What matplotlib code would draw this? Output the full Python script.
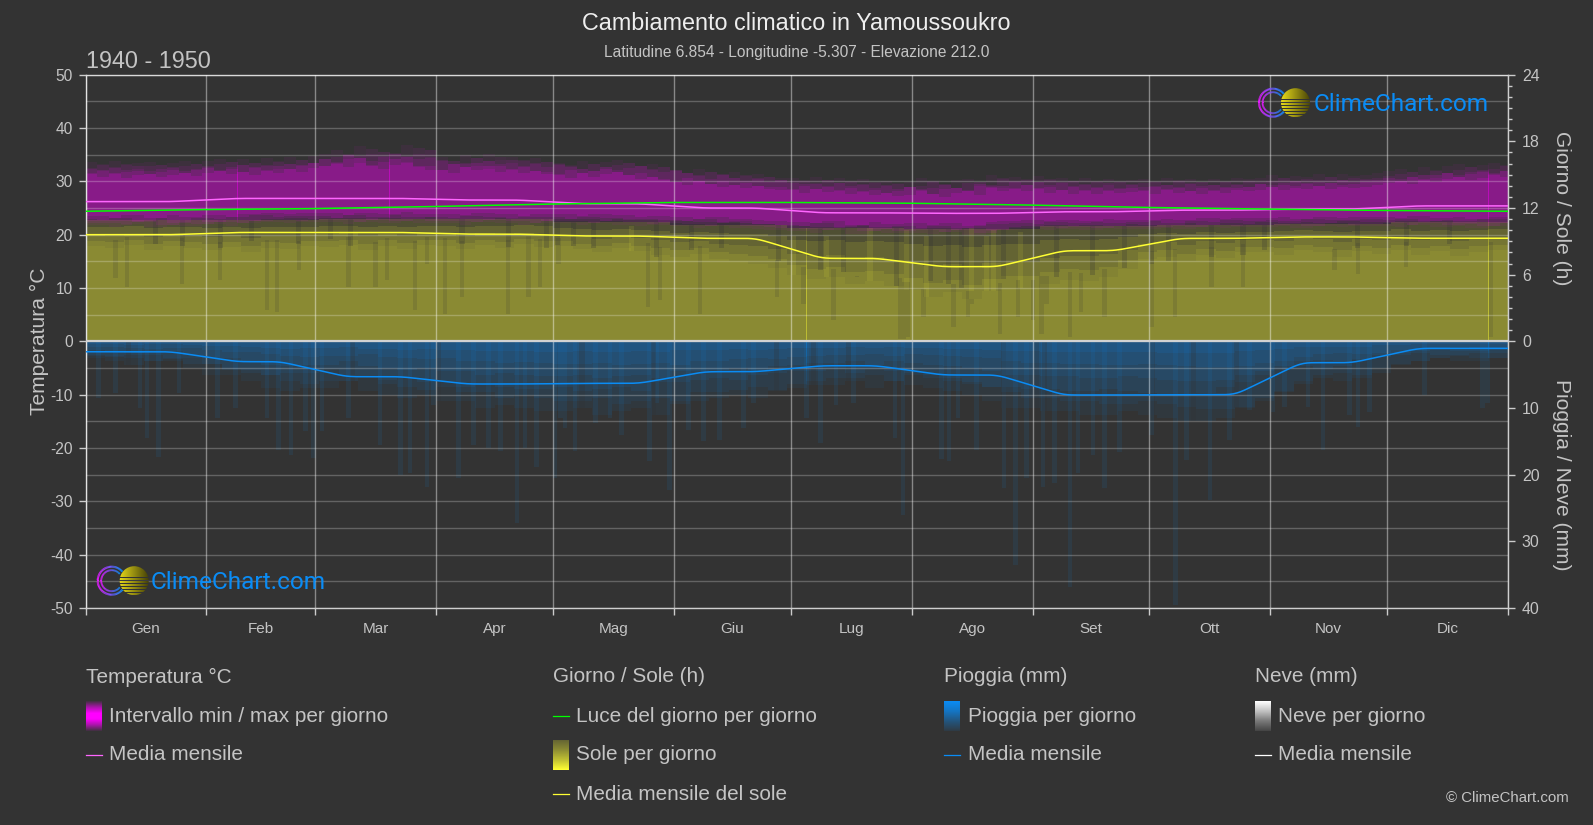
import numpy as np
import matplotlib
matplotlib.use("Agg")
import matplotlib.pyplot as plt
from matplotlib.collections import LineCollection
from matplotlib.patches import Circle

plt.rcParams['font.family'] = ['Liberation Sans', 'DejaVu Sans']
plt.rcParams['axes.unicode_minus'] = False

BG = '#333333'
TXT = '#c4c4c4'
W, H = 1593, 825

months = ['Gen', 'Feb', 'Mar', 'Apr', 'Mag', 'Giu', 'Lug', 'Ago', 'Set', 'Ott', 'Nov', 'Dic']
month_days = [31, 28, 31, 30, 31, 30, 31, 31, 30, 31, 30, 31]

# monthly means
temp_mean = [26.2, 26.8, 26.8, 26.5, 25.8, 25.0, 24.1, 24.0, 24.3, 24.6, 24.8, 25.4]
sun_mean = [9.6, 9.8, 9.8, 9.65, 9.48, 9.27, 7.47, 6.72, 8.16, 9.27, 9.4, 9.28]
rain_mean = [1.56, 3.05, 5.3, 6.4, 6.3, 4.55, 3.66, 5.05, 8.05, 8.0, 3.2, 1.05]
# daylight hours at each month boundary
daylight = [11.71, 11.86, 11.95, 12.14, 12.36, 12.5, 12.5, 12.43, 12.26, 12.05, 11.9, 11.78, 11.71]

# temperature band, top edge in 3 day steps
temp_top = [33.6, 33.2, 33.9, 33.0, 33.4, 33.7, 33.1, 33.5, 33.9, 33.3,
            33.8, 34.2, 33.6, 34.1, 33.5, 34.3, 33.9, 34.6, 34.0, 34.8,
            35.2, 35.8, 34.9, 36.6, 35.2, 34.7, 35.3, 36.9, 35.1, 34.4,
            34.5, 33.9, 35.0, 34.4, 35.1, 34.0, 34.6, 33.8, 34.3, 33.7,
            33.5, 33.0, 33.8, 33.2, 33.6, 34.0, 33.4, 32.8, 33.2, 32.6,
            32.2, 31.6, 32.4, 31.8, 31.2, 31.7, 31.0, 31.4, 30.8, 30.6,
            30.6, 30.2, 30.8, 30.3, 30.6, 29.9, 30.4, 29.7, 30.1, 29.6,
            29.8, 30.6, 29.9, 29.4, 30.2, 30.5, 29.8, 31.2, 30.4, 30.9,
            30.4, 31.0, 30.2, 30.6, 30.0, 30.7, 29.9, 30.4, 30.1, 30.3,
            30.5, 30.0, 30.6, 30.2, 30.4, 29.9, 30.5, 30.1, 30.6, 30.4,
            30.7, 31.2, 30.6, 31.0, 30.8, 31.4, 30.9, 31.3, 31.0, 31.2,
            31.6, 31.9, 32.3, 31.8, 32.6, 32.2, 32.8, 33.2, 32.6, 33.0, 33.4, 33.1]

# temperature band, low edge in 5 day steps
temp_low = [21.8, 21.5, 22.0, 21.4, 21.9, 21.6, 22.0, 21.7, 22.2, 22.4, 22.1, 22.3,
            22.3, 22.0, 22.4, 22.2, 22.5, 22.1, 22.2, 21.9, 22.3, 22.1, 21.8, 22.2,
            22.1, 21.8, 22.2, 21.9, 21.6, 21.8, 21.6, 21.3, 21.7, 21.2, 21.0, 20.8,
            20.7, 20.4, 20.9, 20.2, 20.6, 20.3, 20.4, 20.1, 20.5, 20.0, 20.6, 20.8,
            21.0, 20.8, 21.1, 20.9, 21.2, 21.0, 21.1, 21.3, 21.0, 21.4, 21.2, 21.5,
            21.4, 21.6, 21.3, 21.7, 21.5, 21.6, 21.7, 21.5, 21.8, 21.4, 21.6, 21.3, 21.7]

# sun hours, level reached nearly every year (5 day steps)
sun_solid = [8.6, 8.4, 8.7, 8.2, 8.6, 8.4, 8.2, 8.5, 8.0, 8.4, 8.3, 8.6,
             8.5, 8.7, 8.2, 8.6, 8.3, 8.7, 8.6, 8.3, 8.7, 8.4, 8.8, 8.5,
             8.6, 8.3, 8.0, 8.4, 8.1, 7.8, 7.6, 7.9, 7.4, 7.2, 7.0, 6.6,
             6.0, 5.6, 5.8, 5.2, 5.4, 5.0, 4.6, 4.0, 4.4, 3.8, 4.5, 4.8,
             4.8, 5.2, 5.5, 5.4, 5.8, 6.5, 7.4, 7.6, 7.2, 7.8, 7.5, 8.0,
             8.0, 7.8, 8.2, 8.0, 7.6, 8.1, 7.9, 8.2, 7.8, 8.1, 7.7, 8.0, 8.2]
# sun hours, top of the fringe per month
sun_top = [10.9, 10.9, 11.0, 11.0, 10.7, 10.5, 10.2, 10.1, 10.4, 10.5, 10.6, 10.7]

# long dark streaks in the sun band
sun_dip_days = [7.7, 10.7, 24.8, 34.6, 46.6, 49.1, 54.7, 67.5, 74.4, 77.4, 84.6, 87.6, 92.3, 96.6,
                108.5, 113.7, 116.7, 121.4, 144.4, 147.4, 157.7, 177.4, 184.2, 191.9, 197.9,
                209, 210, 211.1, 215, 222.7, 226.5, 227.5, 234.6, 239.3, 243.2, 245.3, 246.6,
                252.6, 255.5, 261.5, 273.5, 279.5, 288.9, 297, 320.5, 326.5, 338.9, 360.7]
sun_dip_low = [5.7, 4.9, 5.2, 5.5, 2.8, 2.6, 6.4, 4.9, 4.9, 5.5, 2.8, 7.0, 2.5, 4.0,
               2.5, 4.0, 4.9, 7.0, 3.1, 3.7, 2.5, 4.0, 3.4, 1.9, 5.8,
               0.2, 0.2, 0.4, 2.2, 1.3, 2.2, 3.4, 0.7, 2.2, 1.9, 0.7, 3.4,
               0.4, 2.6, 2.2, 1.3, 2.2, 4.9, 4.9, 6.4, 6.1, 6.7, 0.4]

# short dark gaps just under the temperature band
sun_gap_days = [17.9, 24.8, 34.6, 42.7, 54.7, 62.8, 67.9, 96.6, 108.5, 118.4, 121,
                125.2, 130.3, 146.6, 155.6, 163.3, 177.8, 188.5, 194.5, 208.1, 216.7, 221.4, 224.8, 235.5,
                249.1, 258.5, 266.7, 273.5, 277.8, 288.9, 297, 302.6, 326.5, 338.9, 350]
sun_gap_low = [8.8, 8.6, 8.4, 9.0, 8.8, 9.2, 8.6, 8.8, 8.5, 8.4, 8.7,
               8.6, 8.4, 7.6, 8.2, 8.4, 7.2, 6.4, 6.2, 5.0, 5.4, 5.2, 4.8, 5.6,
               5.8, 6.0, 6.6, 7.0, 7.2, 7.6, 7.8, 8.2, 8.4, 8.6, 8.8]

# bright sunny days that stand out in the wet months
sun_peak_days = [140.2, 181.6, 190.2, 201.3, 210.7, 215.8, 227.4, 231.2, 232.9, 239.8]
sun_peak_hours = [10.4, 9.5, 9.5, 10.2, 10.0, 9.5, 10.2, 9.5, 10.0, 9.8]

# rain, depth of the dense part (5 day steps)
rain_band = [2.5, 3, 3.5, 3, 3, 4, 5, 5, 6, 7, 7.5, 7,
             7, 6, 7.5, 8, 8.5, 8, 9, 9, 10, 9.5, 10, 10.5,
             10.5, 10, 11, 10.5, 10, 11, 9, 9, 8.5, 8, 8.5, 7.5,
             7, 6.5, 6.5, 6, 7, 6, 6.5, 7, 7.5, 8, 9, 10,
             10, 10.5, 10.5, 11, 11, 10.5, 11, 11.5, 12, 12, 11.5, 10,
             9, 7.5, 6, 5.5, 6, 5.5, 4, 3.5, 3, 2.5, 3, 3, 2.5]

# single wet days reaching below the band
rain_days = [3.4, 7.7, 14, 15.8, 18.8, 24, 33.8, 38.5, 46.6, 49.6, 52.7, 56.4, 58.5, 60.7, 67.5, 75.6,
             80.8, 83.3, 87.6, 89.3, 95.7, 99.6, 103.4, 106.4, 110.7, 112.8, 115.8, 120.5, 121.8,
             123, 125.6, 130.8, 134.6, 137.6, 144.7, 146.6, 149.8, 154.7, 158.6, 162.7, 168.8, 171.4,
             185, 188.6, 192.6, 197, 207.7, 209.8, 219.7, 221.6, 223.9, 228.6, 235.7, 238.7, 241.5,
             245.7, 248.7, 252.6, 254.7, 258.5, 261.5, 265.4, 273.5, 279.6, 282.5, 288.5, 293.6, 298.7,
             304.7, 307.7, 313.7, 317.5, 324.4, 326.5, 329.5, 343.6, 358.5, 359.8]
rain_mm = [8.5, 7.8, 10, 14.5, 17.3, 7.8, 11.5, 10, 11.5, 16.3, 17.1, 13.5, 17.5, 13.5, 11.5, 15.5,
           20, 19.8, 21.8, 9.5, 20.5, 15.5, 16, 16.5, 27.3, 16, 18.8, 20.5, 11.5,
           13, 16.5, 12.3, 11.5, 14, 18, 9.3, 22.3, 13.3, 15, 14.8, 13, 9.3,
           11.5, 15.3, 9.5, 9.3, 14.5, 26, 17.6, 18, 11.5, 16.3, 22, 33.5, 20.5,
           21.8, 21.3, 36.8, 19.8, 17.1, 22, 16.6, 14, 39.5, 17.8, 23.8, 14.8, 10.3,
           10.6, 9.8, 9.8, 16.3, 11, 12.8, 10.6, 8, 10, 9.3]
# dry streaks in the dense part of the rain
rain_gap_days = [11, 68.4, 90.6, 127.4, 145.7, 177.4, 186.8, 195.7, 235.5, 244, 246.1, 273.9, 284.2, 295.3]


def hours_to_y(h):
    return np.asarray(h, dtype=float) * 50 / 24


def mm_to_y(mm):
    return -np.asarray(mm, dtype=float) * 50 / 40


edges = np.concatenate([[0], np.cumsum(month_days)])
mids = (edges[:-1] + edges[1:]) / 2
days = np.arange(0, 365.5, 0.5)


def month_curve(values):
    # hold each month on a plateau, soft steps around the month ends
    xs, ys = [], []
    for m, v in enumerate(values):
        xs += [edges[m] + 8, edges[m + 1] - 9]
        ys += [v, v]
    y = np.interp(days, xs, ys)
    win = np.hanning(19)
    win /= win.sum()
    pad = np.pad(y, 9, mode='edge')
    return np.convolve(pad, win, mode='valid')


def bin5(d):
    return np.minimum((np.asarray(d) / 5).astype(int), 72)


fig = plt.figure(figsize=(W / 100, H / 100), dpi=100, facecolor=BG)
ax = fig.add_axes([85.5 / W, 1 - 608 / H, (1508 - 85.5) / W, (608 - 74.7) / H], facecolor=BG)
ax.set_xlim(0, 365)
ax.set_ylim(-50, 50)

flat = dict(linewidth=0, antialiased=False, zorder=1)

# sun
x5 = np.arange(len(sun_solid)) * 5 + 2.5
month_of = np.searchsorted(edges, x5, side='right') - 1
top5 = hours_to_y(np.array(sun_top)[np.minimum(month_of, 11)])
solid5 = hours_to_y(sun_solid)
ax.bar(x5, solid5, 5.01, color='#ffff33', alpha=0.43, **flat)
for frac, a in [(1.0, 0.14), (0.75, 0.12), (0.45, 0.11), (0.2, 0.1)]:
    ax.bar(x5, (top5 - solid5) * frac, 5.01, bottom=solid5, color='#ffff33', alpha=a, **flat)
dip_y = hours_to_y(sun_dip_low)
dip_top = solid5[bin5(sun_dip_days)] + 1.5
ax.bar(sun_dip_days, dip_top - dip_y, 1.1, bottom=dip_y, color=BG, alpha=0.16, **flat)
gap_y = hours_to_y(sun_gap_low)
gap_top = top5[bin5(sun_gap_days)]
ax.bar(sun_gap_days, gap_top - gap_y, 1.3, bottom=gap_y, color=BG, alpha=0.25, **flat)
peak_b = solid5[bin5(sun_peak_days)]
ax.bar(sun_peak_days, hours_to_y(sun_peak_hours) - peak_b, 1.3, bottom=peak_b, color='#ffff33', alpha=0.1, **flat)

# temperature band, neighbouring steps on each layer so the edge stays rough
x3 = np.arange(len(temp_top)) * 3 + 1.5
low3 = np.array(temp_low)[bin5(x3)]
top3 = np.array(temp_top)
for up, down, shift, a in [(0, 0, 0, 0.05), (0.6, 0.4, 1, 0.08), (1.1, 0.8, 2, 0.1), (1.7, 1.2, -1, 0.13), (2.3, 1.7, 0, 0.16)]:
    t = np.roll(top3, shift) - up
    b = np.roll(low3, shift) + down
    ax.bar(x3, t - b, 3.01, bottom=b, color='#ff00ff', alpha=a, **flat)

# rain
band = np.array(rain_band, dtype=float)
for frac, shift, a in [(1.0, 0, 0.06), (0.85, 1, 0.07), (0.68, -1, 0.08), (0.5, 0, 0.09), (0.32, 1, 0.1), (0.15, 0, 0.11)]:
    ax.bar(x5, mm_to_y(np.roll(band, shift) * frac), 5.01, color='#0a8cf5', alpha=a, **flat)
ax.bar(rain_days, mm_to_y(rain_mm), 1.2, color='#0a8cf5', alpha=0.09, **flat)
ax.bar(rain_gap_days, mm_to_y(band[bin5(rain_gap_days)]), 1.3, color=BG, alpha=0.25, **flat)

# monthly lines
ax.plot(days, month_curve(temp_mean), color='#ff66ff', lw=1.1, zorder=4)
ax.plot(edges, hours_to_y(daylight), color='#00ff00', lw=1.1, zorder=4)
ax.plot(days, hours_to_y(month_curve(sun_mean)), color='#ffff33', lw=1.1, zorder=4)
ax.plot(days, mm_to_y(month_curve(rain_mean)), color='#0a8cf5', lw=1.1, zorder=4)

ax.axhline(0, color='#d2d2d2', lw=1.6, zorder=3.5)

# axes
ax.set_axisbelow(False)
ax.set_yticks(np.arange(-50, 51, 10))
ax.set_yticks(np.arange(-45, 50, 10), minor=True)
ax.set_xticks(edges)
ax.set_xticklabels([])
ax.set_xticks(mids, minor=True)
ax.set_xticklabels(months, minor=True)
ax.tick_params(axis='x', which='major', length=5, width=1, color='#cccccc')
ax.tick_params(axis='x', which='minor', length=0, pad=10, labelsize=11, labelcolor=TXT)
ax.tick_params(axis='y', which='major', length=5, width=1, color='#cccccc', labelsize=11.2, labelcolor=TXT, pad=4)
ax.tick_params(axis='y', which='minor', length=0)
ax.grid(True, axis='y', which='both', color='#ffffff', alpha=0.24, lw=1)
ax.grid(True, axis='x', which='major', color='#ffffff', alpha=0.42, lw=1)
for s in ax.spines.values():
    s.set_color('#cfcfcf')
    s.set_linewidth(1)

ax2 = ax.twinx()
ax2.set_ylim(-50, 50)
hour_ticks = [0, 6, 12, 18, 24]
mm_ticks = [10, 20, 30, 40]
ax2.set_yticks(list(hours_to_y(hour_ticks)) + list(mm_to_y(mm_ticks)))
ax2.set_yticklabels([str(v) for v in hour_ticks + mm_ticks])
ax2.set_yticks(hours_to_y(np.arange(1, 24)), minor=True)
ax2.tick_params(axis='y', which='major', length=5, width=1, color='#cccccc', labelsize=11.4, labelcolor=TXT, pad=5)
ax2.tick_params(axis='y', which='minor', length=3, width=1, color='#cccccc')
for s in ax2.spines.values():
    s.set_visible(False)

# everything outside the plot goes on a pixel overlay
ov = fig.add_axes([0, 0, 1, 1], facecolor='none')
ov.set_axis_off()


def put(x, y, s, size=14.95, color=TXT, ha='left', **kw):
    ov.text(x, y, s, fontsize=size, color=color, ha=ha, va='center', **kw)


put(796.5, 24, 'Cambiamento climatico in Yamoussoukro', size=16.85, color='#eeeeee', ha='center')
put(796.5, 53, 'Latitudine 6.854 - Longitudine -5.307 - Elevazione 212.0', size=11.2, ha='center')
put(85.5, 61, '1940 - 1950', size=16.8)
put(39, 341, 'Temperatura °C', size=15.1, rotation=90, ha='center')
put(1562, 208, 'Giorno / Sole (h)', size=15.1, rotation=270, ha='center')
put(1562, 474.5, 'Pioggia / Neve (mm)', size=15.1, rotation=270, ha='center')
put(1569, 798, '© ClimeChart.com', size=10.8, ha='right')


def swatch(x, yc, stops, color):
    # vertical gradient block, stops = alpha from top to bottom
    col = np.array(matplotlib.colors.to_rgb(color))
    a = np.interp(np.linspace(0, 1, 30), np.linspace(0, 1, len(stops)), stops)
    img = np.zeros((30, 1, 4))
    img[:, 0, :3] = col
    img[:, 0, 3] = a
    ov.imshow(img, extent=(x, x + 16, yc + 15, yc - 15), aspect='auto', interpolation='bilinear')


def line_key(x, y, color):
    ov.plot([x, x + 16], [y, y], color=color, lw=0.9)


rows = [716, 755, 794]
head_y = 677
col1, col2, col3, col4 = 85.5, 553, 944, 1255
off = 23.5

put(col1, head_y, 'Temperatura °C')
swatch(col1, rows[0], [0.1, 0.6, 1, 1, 0.6, 0.1], '#ff00ff')
put(col1 + off, rows[0], 'Intervallo min / max per giorno')
line_key(col1, rows[1], '#ff66ff')
put(col1 + off, rows[1], 'Media mensile')

put(col2, head_y, 'Giorno / Sole (h)')
line_key(col2, rows[0], '#00ff00')
put(col2 + off, rows[0], 'Luce del giorno per giorno')
swatch(col2, rows[1], [0.25, 0.45, 0.7, 1], '#ffff33')
put(col2 + off, rows[1], 'Sole per giorno')
line_key(col2, rows[2], '#ffff33')
put(col2 + off, rows[2], 'Media mensile del sole')

put(col3, head_y, 'Pioggia (mm)')
swatch(col3, rows[0], [1, 0.75, 0.4, 0.1], '#0a8cf5')
put(col3 + off, rows[0], 'Pioggia per giorno')
line_key(col3, rows[1], '#0a8cf5')
put(col3 + off, rows[1], 'Media mensile')

put(col4, head_y, 'Neve (mm)')
swatch(col4, rows[0], [1, 0.7, 0.35, 0.1], '#ffffff')
put(col4 + off, rows[0], 'Neve per giorno')
line_key(col4, rows[1], '#ffffff')
put(col4 + off, rows[1], 'Media mensile')


def logo(cx, cy, text_x, text_size):
    # two open rings, purple to blue
    for r, lw in [(14, 1.5), (10.5, 1.3)]:
        ang = np.radians(np.linspace(40, 320, 60))
        px = cx + r * np.cos(ang)
        py = cy - r * np.sin(ang)
        pts = np.column_stack([px, py]).reshape(-1, 1, 2)
        segs = np.concatenate([pts[:-1], pts[1:]], axis=1)
        t = (px[:-1] - px.min()) / (px.max() - px.min())
        cols = np.outer(1 - t, [0.9, 0.1, 1.0]) + np.outer(t, [0.05, 0.55, 0.96])
        ov.add_collection(LineCollection(segs, colors=cols, linewidths=lw))
    # striped sun
    sx = cx + 22.5
    n = 30
    img = np.zeros((n, n, 4))
    fade = np.linspace(1, 0.3, n)
    for i in range(n):
        img[i, :, 0] = 0.9 * fade
        img[i, :, 1] = 0.85 * fade
        img[i, :, 2] = 0.1 * fade
        img[i, :, 3] = 0 if i > n * 0.35 and i % 3 == 2 else 1
    im = ov.imshow(img, extent=(sx - 15, sx + 15, cy + 15, cy - 15), aspect='auto', interpolation='nearest')
    im.set_clip_path(Circle((sx, cy), 14.5, transform=ov.transData))
    ov.text(text_x, cy + 2, 'ClimeChart.com', fontsize=text_size, color='#0a8cf5',
            family=['Roboto', 'DejaVu Sans'], va='center', ha='left')


logo(1273, 102.7, 1314, 17.6)
logo(111.7, 580.7, 151, 17.6)

ov.set_xlim(0, W)
ov.set_ylim(H, 0)

fig.savefig('out.png', dpi=100, facecolor=BG)
